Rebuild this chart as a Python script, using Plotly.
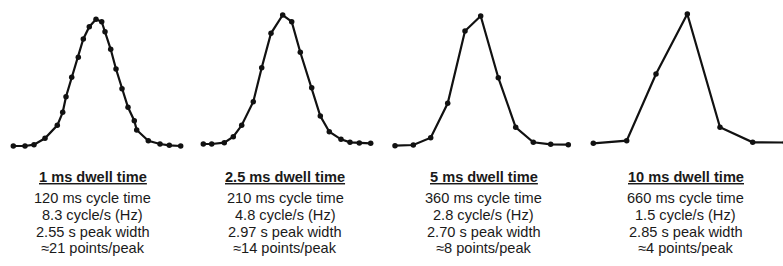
import plotly.graph_objects as go

# Peak traces: acquisition position (scan axis) and relative signal
peak1_x = [13.3, 25, 34, 45, 57.3, 62.7, 66, 71.7, 78.3, 83.3, 89.3, 96, 101.7, 105,
           110.7, 116, 122, 128, 134.3, 136.7, 148.3, 160, 169.3, 180.7]
peak1_y = [4, 4, 5.3, 11.7, 24.7, 37.7, 53.3, 72.7, 92.7, 111, 123.3, 130.7, 128.3, 118.3,
           100.7, 81, 61.3, 42.7, 29.3, 20, 9.3, 6, 4.7, 4]

peak2_x = [203.3, 211.7, 224.3, 233.3, 241.7, 253.3, 261.7, 271, 282.7, 291.7, 300.3,
           311.7, 320.3, 329.3, 341, 350, 359.3, 370.7]
peak2_y = [6, 6, 7.3, 13.3, 24.7, 48.3, 82.3, 116.7, 135, 128.3, 97.7, 62.3, 34, 18.3,
           10.7, 7.7, 7, 6.7]

peak3_x = [395, 413.3, 430.7, 447.7, 465, 480.7, 498.3, 515.7, 533.3, 550.7, 568.3]
peak3_y = [4.3, 5, 12.3, 46.7, 119, 134, 72.3, 22.7, 7.7, 5.7, 5.3]

peak4_x = [593.3, 626.7, 656, 687.3, 720, 752.7, 785.3]
peak4_y = [6.7, 9.3, 76, 136, 22.7, 7.7, 7.5]

dwell_labels = ["1 ms dwell time", "2.5 ms dwell time", "5 ms dwell time", "10 ms dwell time"]
cycle_labels = ["120 ms cycle time", "210 ms cycle time", "360 ms cycle time", "660 ms cycle time"]
freq_labels = ["8.3 cycle/s (Hz)", "4.8 cycle/s (Hz)", "2.8 cycle/s (Hz)", "1.5 cycle/s (Hz)"]
width_labels = ["2.55 s peak width", "2.97 s peak width", "2.70 s peak width", "2.85 s peak width"]
points_labels = ["\u224821 points/peak", "\u224814 points/peak", "\u22488 points/peak", "\u22484 points/peak"]

label_centers = [92.5, 285, 483.5, 685.5]

fig = go.Figure()
for xs, ys in [(peak1_x, peak1_y), (peak2_x, peak2_y), (peak3_x, peak3_y), (peak4_x, peak4_y)]:
    fig.add_trace(go.Scatter(
        x=xs, y=ys, mode="lines+markers",
        line=dict(color="#111111", width=2.2),
        marker=dict(color="#111111", size=5.5),
        showlegend=False, hoverinfo="skip",
    ))

font = dict(family="Liberation Sans, Arial, sans-serif", size=14.6, color="#1a1a1a")
line_rows = [(cycle_labels, 198.3), (freq_labels, 215), (width_labels, 231.7), (points_labels, 248.3)]
for i, cx in enumerate(label_centers):
    fig.add_annotation(x=cx, y=150 - 176.5, xref="x", yref="y",
                       text="<b><u>" + dwell_labels[i] + "</u></b>",
                       showarrow=False, font=font, xanchor="center", yanchor="middle")
    for labels, ypx in line_rows:
        fig.add_annotation(x=cx, y=150 - ypx, xref="x", yref="y",
                           text=labels[i], showarrow=False, font=font,
                           xanchor="center", yanchor="middle")

fig.update_layout(
    width=783, height=266,
    margin=dict(l=0, r=0, t=0, b=0),
    paper_bgcolor="white", plot_bgcolor="white",
    xaxis=dict(range=[0, 783], visible=False, fixedrange=True),
    yaxis=dict(range=[-116, 150], visible=False, fixedrange=True),
)

fig.write_html("out.html", config={"displayModeBar": False},
               post_script="document.body.style.margin='0';document.body.style.overflow='hidden';")
